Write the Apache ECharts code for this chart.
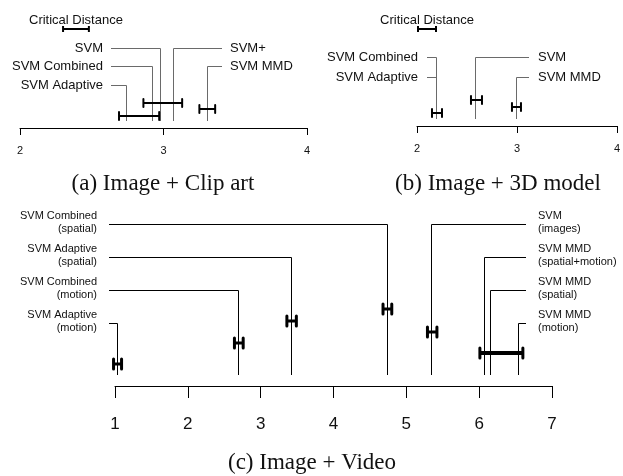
<!DOCTYPE html>
<html><head><meta charset="utf-8">
<script src="https://cdn.jsdelivr.net/npm/echarts@6/dist/echarts.min.js"></script>
<style>html,body{margin:0;padding:0;background:#fff}#c{width:623px;height:476px}</style>
</head><body><div id="c"></div>
<script>
// ---------- Panel (a): Image + Clip art ----------
const aLeftNames = ['SVM', 'SVM Combined', 'SVM Adaptive'];
const aLeftRanks = [2.98, 2.92, 2.74];
const aRightNames = ['SVM+', 'SVM MMD'];
const aRightRanks = [3.07, 3.31];
const aBarLow = [2.86, 2.69, 3.25];
const aBarHigh = [3.13, 2.97, 3.36];
const aTicks = [2, 3, 4];
const aCD = [2.30, 2.48];

// ---------- Panel (b): Image + 3D model ----------
const bLeftNames = ['SVM Combined', 'SVM Adaptive'];
const bLeftRanks = [2.195, 2.195];
const bRightNames = ['SVM', 'SVM MMD'];
const bRightRanks = [2.59, 3.0];
const bBarLow = [2.15, 2.54, 2.95];
const bBarHigh = [2.25, 2.65, 3.04];
const bTicks = [2, 3, 4];
const bCD = [2.01, 2.19];

// ---------- Panel (c): Image + Video ----------
const cLeftNames = ['SVM Combined\n(spatial)', 'SVM Adaptive\n(spatial)', 'SVM Combined\n(motion)', 'SVM Adaptive\n(motion)'];
const cLeftRanks = [4.74, 3.42, 2.70, 1.03];
const cRightNames = ['SVM\n(images)', 'SVM MMD\n(spatial+motion)', 'SVM MMD\n(spatial)', 'SVM MMD\n(motion)'];
const cRightRanks = [5.35, 6.07, 6.16, 6.54];
const cBarLow = [0.98, 2.64, 3.36, 4.68, 5.29, 6.01];
const cBarHigh = [1.09, 2.76, 3.49, 4.80, 5.42, 6.60];
const cTicks = [1, 2, 3, 4, 5, 6, 7];

const captions = ['(a) Image + Clip art', '(b) Image + 3D model', '(c) Image + Video'];
const cdLabel = 'Critical Distance';

// ---------- layout / style ----------
const SANS = '"Liberation Sans", Arial, Helvetica, sans-serif';
const SERIF = '"Liberation Serif", "Times New Roman", serif';
const panels = [
  { grid: {left: 20, top: 0, width: 287, height: 128}, min: 2, max: 4, ticks: aTicks,
    rowY0: 48, rowGap: 18.5, leftLineX: 111, rightLineX: 222, labelGap: 8, labelDy: 0,
    lineGap: 7, lineColor: '#6a6a6a', font: 13, lineH: 15, barYs: [103, 116, 109], barW: 2, capW: 2, capHalf: 4,
    wideW: 2, tickLen: 7, tickFont: 11, labelMargin: 17, cd: aCD, cdTextY: 20, cdBarY: 29,
    caption: captions[0], capX: 163, capY: 184,
    left: [aLeftNames, aLeftRanks], right: [aRightNames, aRightRanks], bars: [aBarLow, aBarHigh] },
  { grid: {left: 417, top: 0, width: 205, height: 126}, min: 2, max: 4, ticks: bTicks,
    rowY0: 57, rowGap: 20, leftLineX: 427, rightLineX: 529, labelGap: 9, labelDy: 0,
    lineGap: 7, lineColor: '#6a6a6a', font: 13, lineH: 15, barYs: [113, 100, 107], barW: 2, capW: 2, capHalf: 4,
    wideW: 2, tickLen: 7, tickFont: 11, labelMargin: 17, cd: bCD, cdTextY: 20, cdBarY: 29,
    caption: captions[1], capX: 498, capY: 184,
    left: [bLeftNames, bLeftRanks], right: [bRightNames, bRightRanks], bars: [bBarLow, bBarHigh] },
  { grid: {left: 115, top: 200, width: 437, height: 186}, min: 1, max: 7, ticks: cTicks,
    rowY0: 224, rowGap: 33, leftLineX: 109, rightLineX: 526, labelGap: 12, labelDy: -2,
    lineGap: 11, lineColor: '#000', font: 11, lineH: 13, barYs: [364, 343, 321, 309, 332, 353], barW: 3, capW: 3, capHalf: 5,
    wideW: 4, tickLen: 12, tickFont: 17, labelMargin: 30, cd: null,
    caption: captions[2], capX: 312, capY: 463,
    left: [cLeftNames, cLeftRanks], right: [cRightNames, cRightRanks], bars: [cBarLow, cBarHigh] }
];

const crisp = v => Math.round(v - 0.5) + 0.5;

function methodRender(P, names, side) {
  return function (params, api) {
    const x = crisp(api.coord([api.value(0), 0])[0]);
    const y = crisp(P.rowY0 + api.value(1) * P.rowGap);
    const bottom = P.grid.top + P.grid.height - P.lineGap;
    const endX = side === 0 ? P.leftLineX : P.rightLineX;
    return { type: 'group', children: [
      { type: 'polyline', shape: { points: [[endX, y], [x, y], [x, bottom]] },
        style: { stroke: P.lineColor, lineWidth: 1, fill: 'none' } },
      { type: 'text', style: { text: names[params.dataIndex],
        x: side === 0 ? endX - P.labelGap : endX + P.labelGap, y: y + P.labelDy,
        align: side === 0 ? 'right' : 'left', verticalAlign: 'middle',
        fontSize: P.font, fontFamily: SANS, lineHeight: P.lineH, fill: '#111' } }
    ]};
  };
}

function barRender(P) {
  return function (params, api) {
    const x1 = api.coord([api.value(0), 0])[0];
    const x2 = api.coord([api.value(1), 0])[0];
    const y = P.barYs[params.dataIndex];
    const w = (api.value(1) - api.value(0)) > 0.3 ? P.wideW : P.barW;
    const st = { stroke: '#000', lineWidth: w, lineCap: 'butt' };
    const cs = { stroke: '#000', lineWidth: P.capW, lineCap: 'round' };
    return { type: 'group', children: [
      { type: 'line', shape: { x1: x1, y1: y, x2: x2, y2: y }, style: st },
      { type: 'line', shape: { x1: x1, y1: y - P.capHalf, x2: x1, y2: y + P.capHalf }, style: cs },
      { type: 'line', shape: { x1: x2, y1: y - P.capHalf, x2: x2, y2: y + P.capHalf }, style: cs }
    ]};
  };
}

function cdRender(P) {
  return function (params, api) {
    const x1 = api.coord([api.value(0), 0])[0];
    const x2 = api.coord([api.value(1), 0])[0];
    const y = P.cdBarY;
    return { type: 'group', children: [
      { type: 'line', shape: { x1: x1, y1: y, x2: x2, y2: y }, style: { stroke: '#000', lineWidth: 2 } },
      { type: 'line', shape: { x1: x1, y1: y - 3, x2: x1, y2: y + 3 }, style: { stroke: '#000', lineWidth: 2 } },
      { type: 'line', shape: { x1: x2, y1: y - 3, x2: x2, y2: y + 3 }, style: { stroke: '#000', lineWidth: 2 } },
      { type: 'text', style: { text: cdLabel, x: (x1 + x2) / 2, y: P.cdTextY, align: 'center', verticalAlign: 'middle',
        fontSize: P.font, fontFamily: SANS, fill: '#111' } }
    ]};
  };
}

const grids = [], xAxes = [], yAxes = [], series = [], graphics = [];
panels.forEach((P, i) => {
  grids.push(Object.assign({ containLabel: false }, P.grid));
  xAxes.push({ gridIndex: i, type: 'value', min: P.min, max: P.max, position: 'bottom',
    axisLine: { show: true, onZero: false, lineStyle: { color: '#000', width: 1 } },
    axisTick: { show: true, inside: false, length: P.tickLen, customValues: P.ticks, lineStyle: { color: '#000', width: 1 } },
    axisLabel: { show: true, margin: P.labelMargin, fontSize: P.tickFont, fontFamily: SANS, color: '#111',
      customValues: P.ticks, showMinLabel: true, showMaxLabel: true },
    splitLine: { show: false } });
  yAxes.push({ gridIndex: i, type: 'value', min: 0, max: 1, show: false, splitLine: { show: false } });
  [[P.left, 0], [P.right, 1]].forEach(([grp, side]) => {
    series.push({ type: 'custom', xAxisIndex: i, yAxisIndex: i, clip: false, z: 2, silent: true,
      renderItem: methodRender(P, grp[0], side),
      data: grp[1].map((r, k) => [r, k]) });
  });
  series.push({ type: 'custom', xAxisIndex: i, yAxisIndex: i, clip: false, z: 5, silent: true,
    renderItem: barRender(P), data: P.bars[0].map((lo, k) => [lo, P.bars[1][k]]) });
  if (P.cd) {
    series.push({ type: 'custom', xAxisIndex: i, yAxisIndex: i, clip: false, z: 5, silent: true,
      renderItem: cdRender(P), data: [[P.cd[0], P.cd[1]]] });
  }
  graphics.push({ type: 'text', x: P.capX, y: P.capY,
    style: { text: P.caption, align: 'center', verticalAlign: 'middle', fontSize: 23, fontFamily: SERIF, fill: '#111' } });
});

const chart = echarts.init(document.getElementById('c'), null, { renderer: 'canvas' });
chart.setOption({
  animation: false,
  backgroundColor: '#fff',
  grid: grids, xAxis: xAxes, yAxis: yAxes, series: series, graphic: graphics
});
</script></body></html>
